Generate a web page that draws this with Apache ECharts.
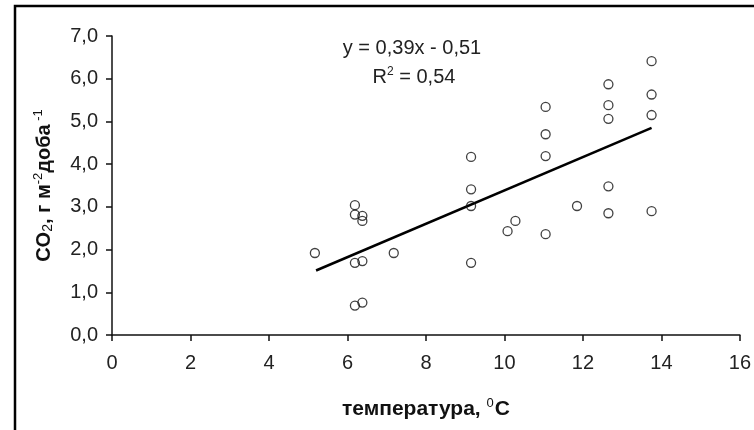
<!DOCTYPE html>
<html><head><meta charset="utf-8">
<script src="https://cdn.jsdelivr.net/npm/echarts@6/dist/echarts.min.js"></script>
<style>html,body{margin:0;padding:0;background:#fff}#c{width:754px;height:430px}</style>
</head><body><div id="c"></div>
<script>
// Observed points (temperature °C, CO2 g m-2 day-1)
var tempValues = [5.17, 6.19, 6.19, 6.38, 6.38, 6.19, 6.38, 7.18, 6.19, 6.38,
  9.15, 9.15, 9.15, 9.15, 10.08, 10.28, 11.05, 11.05, 11.05, 11.05, 11.85,
  12.65, 12.65, 12.65, 12.65, 12.65, 13.75, 13.75, 13.75, 13.75];
var co2Values = [1.92, 3.04, 2.82, 2.79, 2.67, 1.69, 1.73, 1.92, 0.69, 0.76,
  4.17, 3.41, 3.02, 1.69, 2.43, 2.67, 5.34, 4.70, 4.19, 2.36, 3.02,
  5.87, 5.38, 5.06, 3.48, 2.85, 6.41, 5.63, 5.15, 2.90];
// Trend line end points as drawn
var trendX = [5.2, 13.75];
var trendY = [1.51, 4.85];
var equationText = 'y = 0,39x - 0,51';
var r2Text = 'R{sup|2} = 0,54';

var points = tempValues.map(function (t, i) { return [t, co2Values[i]]; });
var trend = trendX.map(function (t, i) { return [t, trendY[i]]; });

var FONT = 'Liberation Sans';
var chart = echarts.init(document.getElementById('c'));
chart.setOption({
  backgroundColor: '#fff',
  animation: false,
  grid: { left: 112, right: 13, top: 36, bottom: 95, containLabel: false },
  xAxis: {
    type: 'value', min: 0, max: 16, interval: 2,
    axisLine: { show: true, onZero: false, lineStyle: { color: '#111', width: 1.5 } },
    axisTick: { show: true, length: 6, lineStyle: { color: '#111', width: 1.5 } },
    splitLine: { show: false },
    axisLabel: { color: '#222', fontFamily: FONT, fontSize: 20, margin: 18 },
    name: '{b|температура, }{sup|0}{b|C}',
    nameLocation: 'middle', nameGap: 62,
    nameTextStyle: {
      rich: {
        b: { fontFamily: FONT, fontWeight: 'bold', fontSize: 21, color: '#111' },
        sup: { fontFamily: FONT, fontSize: 13, color: '#111', padding: [0, 1, 11, 0] }
      }
    }
  },
  yAxis: {
    type: 'value', min: 0, max: 7, interval: 1,
    axisLine: { show: true, onZero: false, lineStyle: { color: '#111', width: 1.5 } },
    axisTick: { show: true, length: 6, lineStyle: { color: '#111', width: 1.5 } },
    splitLine: { show: false },
    axisLabel: {
      color: '#222', fontFamily: FONT, fontSize: 20, margin: 14,
      formatter: function (v) { return v.toFixed(1).replace('.', ','); }
    },
    name: '{b|CO}{sub|2}{b|, г м}{sup|-2}{b|доба}{sup| -1}',
    nameLocation: 'middle', nameGap: 56, nameRotate: 90,
    nameTextStyle: {
      rich: {
        b: { fontFamily: FONT, fontWeight: 'bold', fontSize: 20, color: '#111' },
        sub: { fontFamily: FONT, fontSize: 14, color: '#111', padding: [9, 0, 0, 0] },
        sup: { fontFamily: FONT, fontSize: 13, color: '#111', padding: [0, 0, 11, 0] }
      }
    }
  },
  series: [
    {
      type: 'scatter', data: points, symbol: 'circle', symbolSize: 9,
      itemStyle: { color: 'rgba(255,255,255,0)', borderColor: '#111', borderWidth: 1.3 },
      z: 3
    },
    {
      type: 'line', data: trend, symbol: 'none',
      lineStyle: { color: '#000', width: 2.5 }, z: 2
    }
  ],
  graphic: [
    { type: 'rect', shape: { x: 15, y: 6, width: 800, height: 500 },
      style: { fill: 'none', stroke: '#000', lineWidth: 2.5 }, silent: true },
    { type: 'text', x: 412, y: 48,
      style: { text: equationText, fontFamily: FONT, fontSize: 20, fill: '#222',
        align: 'center', verticalAlign: 'middle' } },
    { type: 'text', x: 414, y: 77,
      style: { text: r2Text, fontFamily: FONT, fontSize: 20, fill: '#222',
        align: 'center', verticalAlign: 'middle',
        rich: { sup: { fontFamily: FONT, fontSize: 12, fill: '#222', padding: [0, 0, 10, 0] } } } }
  ]
});
</script></body></html>
